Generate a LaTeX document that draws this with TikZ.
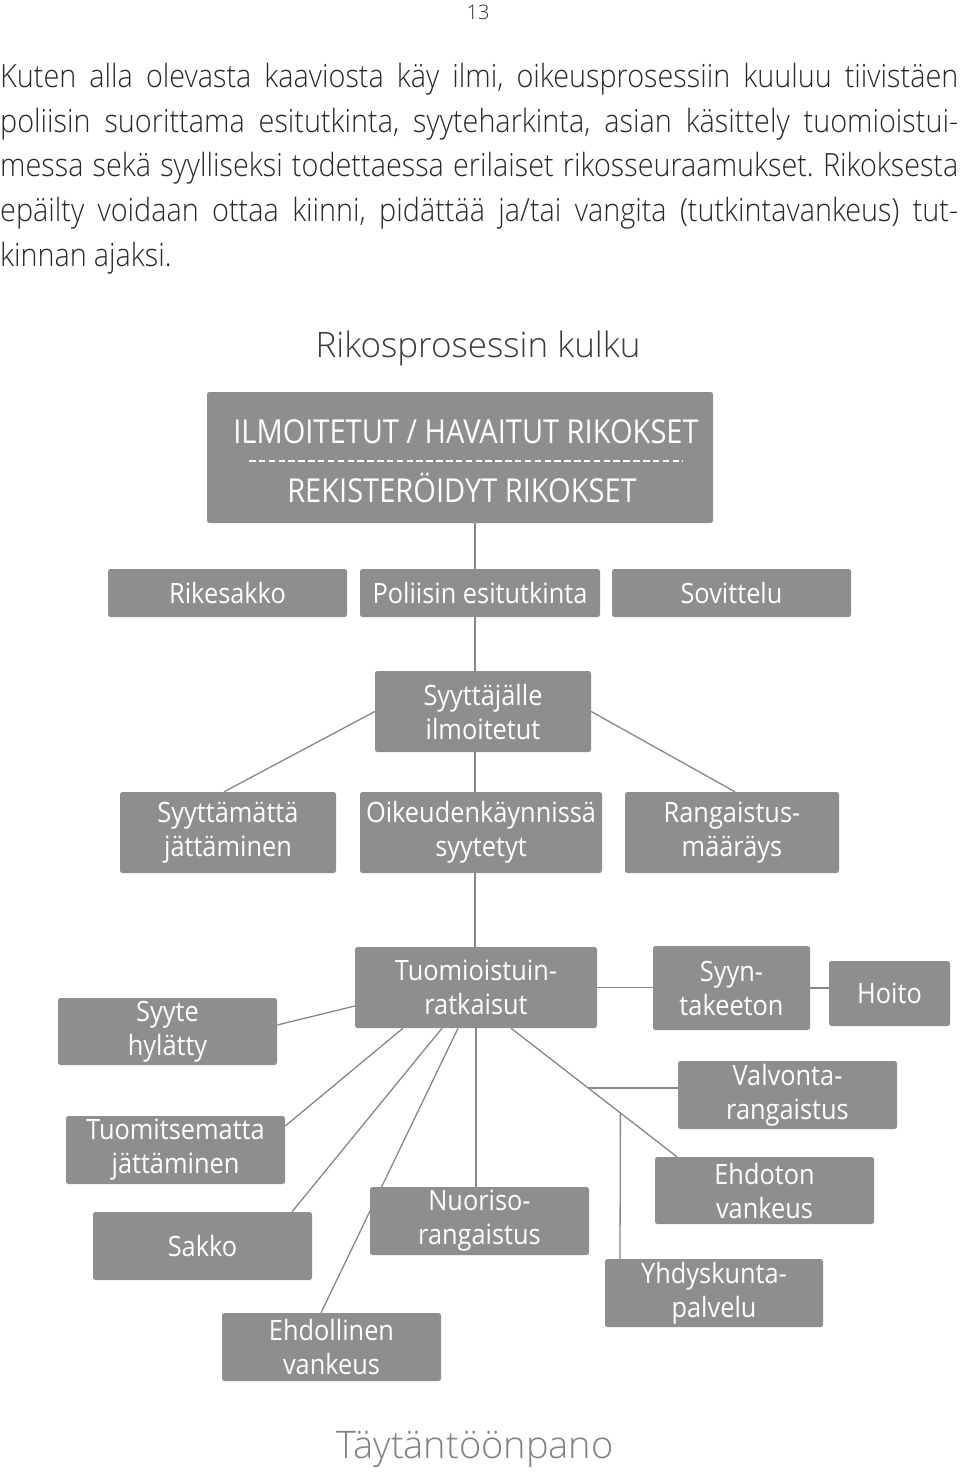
\documentclass[tikz,border=0pt]{standalone}
\usepackage{fontspec}
\usetikzlibrary{backgrounds,calc}
\IfFontExistsTF{Open Sans Light}
  {\newfontfamily\bodyfont{Open Sans Light}[FakeStretch=0.90]
   \newfontfamily\lightwide{Open Sans Light}}
  {\newfontfamily\bodyfont{Open Sans}[FakeStretch=0.90]
   \newfontfamily\lightwide{Open Sans}}
\newfontfamily\boxfont{Open Sans}[FakeStretch=0.905]
\newfontfamily\topfont{Open Sans}[FakeStretch=0.88]
\setmainfont{Open Sans}
\frenchspacing
\definecolor{boxgray}{RGB}{142,142,142}
\definecolor{linegray}{RGB}{135,135,135}
\definecolor{bodytext}{RGB}{40,40,40}
\definecolor{titletext}{RGB}{60,60,60}
\definecolor{foottext}{RGB}{130,130,130}
\newcommand\jline[1]{\hbox to 958pt{\frenchspacing\spaceskip=0.22em plus 1em minus 0.04em\relax #1}}
\begin{document}
\begin{tikzpicture}[x=1pt,y=-1pt,
  box/.style={fill=boxgray, rounded corners=2.5pt, text=white, align=center,
    inner sep=0pt, font=\boxfont\fontsize{28}{34}\selectfont},
  conn/.style={draw=linegray, line width=1.3pt},
  body/.style={anchor=base west, inner sep=0pt, text=bodytext,
    font=\bodyfont\fontsize{32}{44}\selectfont}]
\useasboundingbox (0,0) rectangle (960,1474);
% text
\node[anchor=base, inner sep=0pt, text=bodytext, font=\lightwide\fontsize{20}{24}\selectfont] (pg) at (478,19.5) {13};
\node[body] (l1) at (0,88) {\jline{Kuten alla olevasta kaaviosta käy ilmi, oikeusprosessiin kuuluu tiivistäen}};
\node[body] (l2) at (0,132.5) {\jline{poliisin suorittama esitutkinta, syyteharkinta, asian käsittely tuomioistui-}};
\node[body] (l3) at (0,177) {\jline{messa sekä syylliseksi todettaessa erilaiset rikosseuraamukset. Rikoksesta}};
\node[body] (l4) at (0,221.5) {\jline{epäilty voidaan ottaa kiinni, pidättää ja/tai vangita (tutkintavankeus) tut-}};
\node[body] (l5) at (0,266) {\spaceskip=0.22em\relax kinnan ajaksi.};
\node[anchor=base, inner sep=0pt, text=titletext, font=\lightwide\fontsize{35}{40}\selectfont] (title) at (478,357) {Rikosprosessin kulku};
\node[anchor=base, inner sep=0pt, text=foottext, font=\lightwide\fontsize{38}{44}\selectfont] (foot) at (475,1458) {Täytäntöönpano};
% boxes
\node[box, minimum width=506pt, minimum height=131pt] (top) at (460,457.5) {};
\node[anchor=base, inner sep=0pt, text=white, font=\topfont\fontsize{33}{40}\selectfont] (t1) at (466,443) {ILMOITETUT / HAVAITUT RIKOKSET};
\node[anchor=base, inner sep=0pt, text=white, font=\topfont\fontsize{33}{40}\selectfont] (t2) at (462,502) {REKISTERÖIDYT RIKOKSET};
\draw[white, line width=1.4pt, dash pattern=on 6.5pt off 3.35pt] (249,461) -- (683,461);
\node[box, minimum width=239pt, minimum height=48pt] (rike) at (227.5,593) {Rikesakko};
\node[box, minimum width=240pt, minimum height=48pt] (poli) at (480,593) {Poliisin esitutkinta};
\node[box, minimum width=239pt, minimum height=48pt] (sovi) at (731.5,593) {Sovittelu};
\node[box, minimum width=216pt, minimum height=81pt] (syyt) at (483,711.5) {Syyttäjälle\\ilmoitetut};
\node[box, minimum width=216pt, minimum height=81pt] (syma) at (228,832.5) {Syyttämättä\\jättäminen};
\node[box, minimum width=242pt, minimum height=81pt] (oike) at (481,832.5) {Oikeudenkäynnissä\\syytetyt};
\node[box, minimum width=214pt, minimum height=81pt] (rang) at (732,832.5) {Rangaistus-\\määräys};
\node[box, minimum width=242pt, minimum height=81pt] (tuom) at (476,987.5) {Tuomioistuin-\\ratkaisut};
\node[box, minimum width=157pt, minimum height=84pt] (syyn) at (731.5,988) {Syyn-\\takeeton};
\node[box, minimum width=121pt, minimum height=65pt] (hoit) at (889.5,993.5) {Hoito};
\node[box, minimum width=219pt, minimum height=67pt] (hyla) at (167.5,1031.5) {Syyte\\hylätty};
\node[box, minimum width=219pt, minimum height=68pt] (valv) at (787.5,1095) {Valvonta-\\rangaistus};
\node[box, minimum width=219pt, minimum height=68pt] (tume) at (175.5,1150) {Tuomitsematta\\jättäminen};
\node[box, minimum width=219pt, minimum height=67pt] (ehdo) at (764.5,1190.5) {Ehdoton\\vankeus};
\node[box, minimum width=219pt, minimum height=68pt] (sakk) at (202.5,1246) {Sakko};
\node[box, minimum width=219pt, minimum height=68pt] (nuor) at (479.5,1221) {Nuoriso-\\rangaistus};
\node[box, minimum width=218pt, minimum height=68pt] (yhdy) at (714,1293) {Yhdyskunta-\\palvelu};
\node[box, minimum width=219pt, minimum height=68pt] (ehdl) at (331.5,1347) {Ehdollinen\\vankeus};
% connectors
\begin{pgfonlayer}{background}
\fill[white] (0,0) rectangle (960,1474);
\coordinate (spine) at (475,0);
\draw[conn] (top.south -| spine) -- (poli.north -| spine);
\draw[conn] (poli.south -| spine) -- (syyt.north -| spine);
\draw[conn] (syyt.south -| spine) -- (oike.north -| spine);
\draw[conn] (oike.south -| spine) -- (tuom.north -| spine);
\draw[conn] (syyt.west) -- ([xshift=-4pt]syma.north);
\draw[conn] (syyt.east) -- ([xshift=3pt]rang.north);
\draw[conn] ([yshift=-18.5pt]tuom.west) -- ([yshift=6.5pt]hyla.east);
\draw[conn] (tuom.east) -- (tuom.east -| syyn.west);
\draw[conn] (syyn.east) -- (syyn.east -| hoit.west);
\draw[conn] ([xshift=-73pt]tuom.south) -- ([yshift=24pt]tume.east);
\draw[conn] ([xshift=-34pt]tuom.south) -- ([xshift=89.5pt]sakk.north);
\draw[conn] ([xshift=-18pt]tuom.south) -- ([xshift=-10.5pt]ehdl.north);
\draw[conn] (tuom.south) -- (tuom.south |- nuor.north);
\draw[conn] ([xshift=35pt]tuom.south) -- coordinate[pos=0.465] (vp) coordinate[pos=0.659] (yp) ([xshift=-87.5pt]ehdo.north);
\draw[conn] (vp) -- (vp -| valv.west);
\draw[conn] (yp) -- ([xshift=-94pt]yhdy.north);
\end{pgfonlayer}
\end{tikzpicture}
\end{document}
